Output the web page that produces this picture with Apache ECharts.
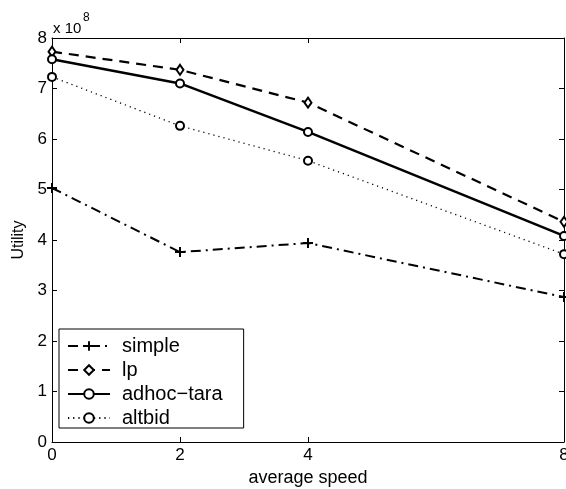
<!DOCTYPE html>
<html>
<head>
<meta charset="utf-8">
<script src="https://cdn.jsdelivr.net/npm/echarts@6/dist/echarts.min.js"></script>
<style>
  html, body { margin: 0; padding: 0; background: #fff; }
  #chart { width: 566px; height: 489px; }
</style>
</head>
<body>
<div id="chart"></div>
<script>
// average speed values on the x axis
const speeds = [0, 2, 4, 8];
const xTicks = [0, 2, 4, 8];
// utility in units of 1e8
const simple = [5.03, 3.76, 3.94, 2.87];
const lp = [7.73, 7.37, 6.72, 4.36];
const adhocTara = [7.58, 7.10, 6.14, 4.08];
const altbid = [7.23, 6.26, 5.57, 3.72];
const seriesNames = ['simple', 'lp', 'adhoc\u2212tara', 'altbid'];

const FONT = '"Liberation Sans", Arial, Helvetica, sans-serif';
const plusPath = 'path://M4,0H6V4H10V6H6V10H4V6H0V4H4Z';

function pairs(vals) {
  return speeds.map((s, i) => [s, vals[i]]);
}

function makeSeries(name, vals, line, symbol, symbolSize) {
  return {
    name: name,
    type: 'line',
    data: pairs(vals),
    symbol: symbol,
    symbolSize: symbolSize,
    clip: false,
    lineStyle: Object.assign({ color: '#000' }, line),
    itemStyle: symbol === plusPath
      ? { color: '#000', borderWidth: 0 }
      : { color: '#fff', borderColor: '#000', borderWidth: 2 },
    emphasis: { disabled: true },
    z: 3
  };
}

const chart = echarts.init(document.getElementById('chart'), null, { renderer: 'canvas' });

const axisLine = { show: true, onZero: false, lineStyle: { color: '#000', width: 1 } };
const tick = { show: true, inside: true, length: 5, lineStyle: { color: '#000' } };

chart.setOption({
  animation: false,
  backgroundColor: '#fff',
  grid: { left: 52, right: 2, top: 38, bottom: 47, containLabel: false, outerBoundsMode: 'none' },
  xAxis: [
    {
      type: 'value', min: 0, max: 8, position: 'bottom',
      name: 'average speed', nameLocation: 'middle', nameGap: 22,
      nameTextStyle: { fontFamily: FONT, fontSize: 18, color: '#000' },
      axisLine: axisLine,
      axisTick: Object.assign({ customValues: xTicks }, tick),
      axisLabel: { customValues: xTicks, fontFamily: FONT, fontSize: 17, color: '#000', margin: 5, showMaxLabel: true },
      splitLine: { show: false }
    },
    {
      type: 'value', min: 0, max: 8, position: 'top',
      axisLine: axisLine,
      axisTick: Object.assign({ customValues: xTicks }, tick),
      axisLabel: { show: false },
      splitLine: { show: false }
    }
  ],
  yAxis: [
    {
      type: 'value', min: 0, max: 8, interval: 1, position: 'left',
      name: 'Utility', nameLocation: 'middle', nameGap: 25, nameRotate: 90,
      nameTextStyle: { fontFamily: FONT, fontSize: 16, color: '#000' },
      axisLine: axisLine,
      axisTick: tick,
      axisLabel: { fontFamily: FONT, fontSize: 17, color: '#000', margin: 5 },
      splitLine: { show: false }
    },
    {
      type: 'value', min: 0, max: 8, interval: 1, position: 'right',
      axisLine: axisLine,
      axisTick: tick,
      axisLabel: { show: false },
      splitLine: { show: false }
    }
  ],
  legend: {
    orient: 'vertical',
    left: 59, top: 329,
    padding: [7, 21, 0, 8],
    itemWidth: 42, itemHeight: 12, itemGap: 4,
    backgroundColor: '#fff',
    borderColor: '#000', borderWidth: 1, borderRadius: 0,
    selectedMode: false,
    textStyle: { fontFamily: FONT, fontSize: 20, lineHeight: 18, color: '#000', padding: [0, 0, 0, 7] },
    data: seriesNames
  },
  graphic: [
    { type: 'text', x: 53, y: 29, style: { text: 'x 10', font: '15px ' + FONT, fill: '#000', verticalAlign: 'middle' } },
    { type: 'text', x: 83, y: 18, style: { text: '8', font: '12px ' + FONT, fill: '#000', verticalAlign: 'middle' } }
  ],
  series: [
    makeSeries(seriesNames[0], simple, { type: [10, 5, 2, 5], width: 2 }, plusPath, 10),
    makeSeries(seriesNames[1], lp, { type: [10, 7], width: 2.2 }, 'diamond', [7, 10]),
    makeSeries(seriesNames[2], adhocTara, { type: 'solid', width: 2.5 }, 'circle', 8),
    makeSeries(seriesNames[3], altbid, { type: [1.2, 4], width: 1.3 }, 'circle', 8)
  ]
});
</script>
</body>
</html>
